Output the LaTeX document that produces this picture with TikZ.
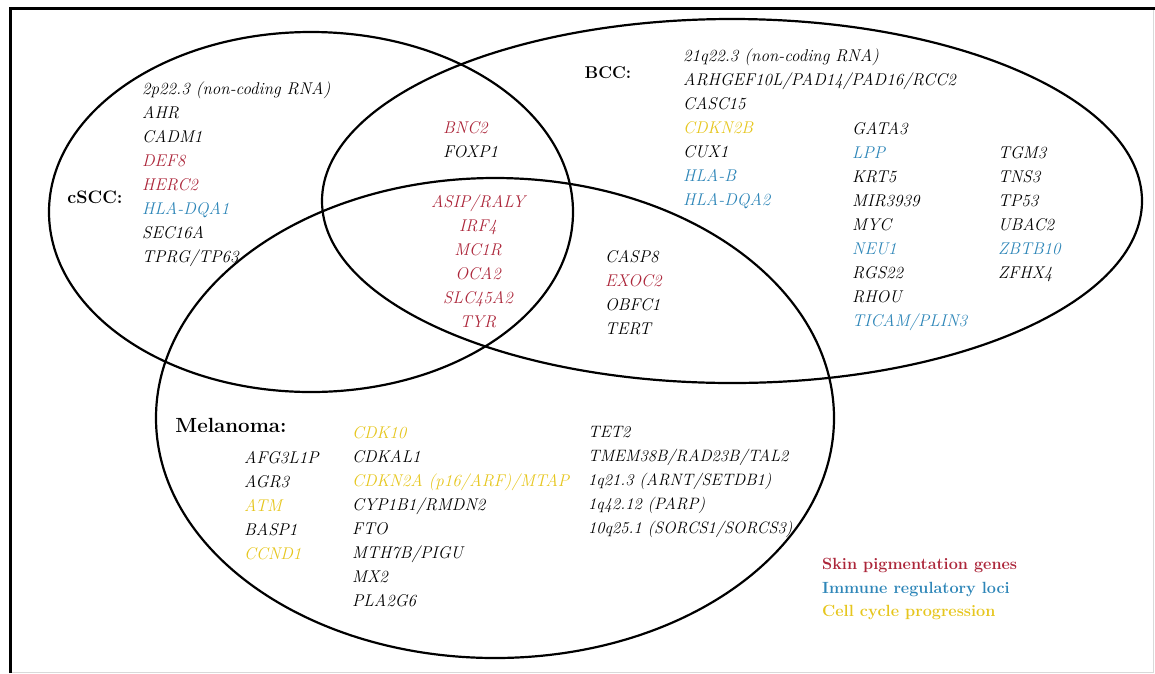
\documentclass[tikz,border=0pt]{standalone}
\usepackage{fontspec}
\usepackage{tikz}
\definecolor{pigred}{RGB}{172,38,58}
\definecolor{immblue}{RGB}{46,134,184}
\definecolor{cycyellow}{RGB}{230,198,30}
\tikzset{
  venn/.style={line width=2.2pt},
  genes/.style={font=\itshape\fontsize{17}{24}\selectfont, align=left, inner sep=0pt, anchor=north west},
  setlabel/.style={font=\bfseries\fontsize{18}{22}\selectfont, inner sep=0pt},
  legendtext/.style={font=\bfseries\fontsize{16.2}{23.5}\selectfont, align=left, inner sep=0pt, anchor=north west}
}
\begin{document}
\begin{tikzpicture}[x=1pt,y=-1pt]
    \useasboundingbox (0,0) rectangle (1155,673);
    % Frame
    \draw[black!15, line width=1pt] (1153,8) -- (1153,672) -- (10,672);
    \draw[line width=3pt] (10,673) -- (10,8) -- (1155,8);

    % Venn ellipses
    \draw[venn] (311,212) ellipse [x radius=262pt, y radius=180pt];
    \draw[venn] (732,201) ellipse [x radius=410pt, y radius=182pt];
    \draw[venn] (495,418) ellipse [x radius=339pt, y radius=240pt];

    % Set labels
    \node[setlabel] (cscc) at (95,197) {cSCC:};
    \node[setlabel, font=\bfseries\fontsize{17}{20}\selectfont] (bcc) at (608,73) {BCC:};
    \node[setlabel, font=\bfseries\fontsize{20.5}{24}\selectfont] (mel) at (231,425) {Melanoma:};

    % cSCC only
    \node[genes] (csccgenes) at (142,82) {2p22.3 (non-coding RNA)\\ AHR\\ CADM1\\
        \textcolor{pigred}{DEF8}\\ \textcolor{pigred}{HERC2}\\ \textcolor{immblue}{HLA-DQA1}\\
        SEC16A\\ TPRG/TP63};

    % cSCC and BCC
    \node[genes] (csccbcc) at (443,121) {\textcolor{pigred}{BNC2}\\ FOXP1};

    % all three
    \node[genes, align=center, anchor=north, text=pigred] (allthree) at (478,195)
        {ASIP/RALY\\ IRF4\\ MC1R\\ OCA2\\ SLC45A2\\ TYR};

    % BCC and melanoma
    \node[genes] (bccmel) at (605,250) {CASP8\\ \textcolor{pigred}{EXOC2}\\ OBFC1\\ TERT};

    % BCC only
    \node[genes] (bcca) at (683,49) {21q22.3 (non-coding RNA)\\ ARHGEF10L/PAD14/PAD16/RCC2\\
        CASC15\\ \textcolor{cycyellow}{CDKN2B}\\ CUX1\\ \textcolor{immblue}{HLA-B}\\
        \textcolor{immblue}{HLA-DQA2}};
    \node[genes] (bccb) at (852,122) {GATA3\\ \textcolor{immblue}{LPP}\\ KRT5\\ MIR3939\\ MYC\\
        \textcolor{immblue}{NEU1}\\ RGS22\\ RHOU\\ \textcolor{immblue}{TICAM/PLIN3}};
    \node[genes] (bccc) at (998,146) {TGM3\\ TNS3\\ TP53\\ UBAC2\\
        \textcolor{immblue}{ZBTB10}\\ ZFHX4};

    % Melanoma only
    \node[genes] (mela) at (244,451) {AFG3L1P\\ AGR3\\ \textcolor{cycyellow}{ATM}\\ BASP1\\
        \textcolor{cycyellow}{CCND1}};
    \node[genes] (melb) at (352,426) {\textcolor{cycyellow}{CDK10}\\ CDKAL1\\
        \textcolor{cycyellow}{CDKN2A (p16/ARF)/MTAP}\\ CYP1B1/RMDN2\\ FTO\\ MTH7B/PIGU\\
        MX2\\ PLA2G6};
    \node[genes, font=\itshape\fontsize{16.5}{24}\selectfont] (melc) at (588,426) {TET2\\
        TMEM38B/RAD23B/TAL2\\ 1q21.3 (ARNT/SETDB1)\\ 1q42.12 (PARP)\\ 10q25.1 (SORCS1/SORCS3)};

    % Legend
    \node[legendtext] (legend) at (822,558) {\textcolor{pigred}{Skin pigmentation genes}\\
        \textcolor{immblue}{Immune regulatory loci}\\ \textcolor{cycyellow}{Cell cycle progression}};
\end{tikzpicture}
\end{document}
